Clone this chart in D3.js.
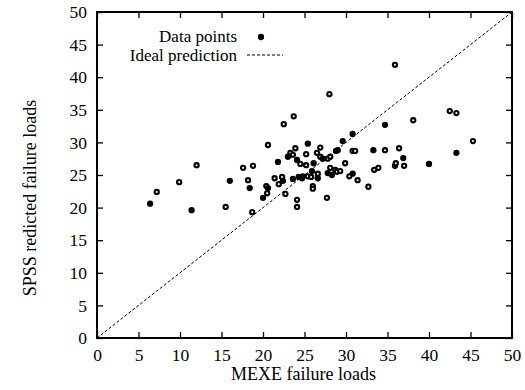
<!DOCTYPE html>
<html>
<head>
<meta charset="utf-8">
<script src="https://cdn.jsdelivr.net/npm/d3@7"></script>
<style>
  body { margin: 0; background: #fff; }
  text { font-family: "Liberation Serif", "Times New Roman", serif; fill: #000; }
</style>
</head>
<body>
<svg id="chart" width="525" height="390"></svg>
<script>
// MEXE failure loads (x) vs SPSS predicted failure loads (y)
let mexe = [6.4, 7.2, 9.9, 11.4, 12.0, 15.5, 16.0, 17.6, 18.2, 18.4, 18.7, 18.8, 20.0, 20.4, 20.5,
  20.6, 20.6, 21.4, 21.8, 21.9, 22.3, 22.4, 22.5, 22.7, 23.0, 23.3, 23.6, 23.6, 23.7, 23.9,
  24.1, 24.1, 24.1, 24.3, 24.5, 24.7, 24.8, 25.2, 25.2, 25.4, 25.4, 25.8, 25.9, 26.0, 26.0,
  26.1, 26.5, 26.6, 26.6, 26.9, 26.9, 27.2, 27.7, 27.8, 27.8, 28.1, 28.1, 28.3, 28.7, 28.8,
  29.0, 28.9, 29.3, 29.6, 29.9, 30.4, 30.8, 30.8, 31.1, 30.8, 31.4, 32.7, 33.3, 33.4, 33.9,
  34.7, 34.7, 35.9, 35.9, 36.0, 36.4, 36.9, 37.0, 38.1, 40.0, 42.5, 43.3, 43.3, 45.3, 28.0];
let spss = [20.6, 22.4, 23.9, 19.6, 26.5, 20.1, 24.1, 26.1, 24.2, 23.0, 19.3, 26.4, 21.5, 23.3, 22.2,
  23.0, 29.6, 24.5, 27.0, 23.6, 24.7, 24.1, 32.8, 22.1, 27.8, 28.4, 28.1, 24.4, 34.0, 29.1,
  27.3, 21.2, 20.1, 24.7, 26.7, 24.5, 24.8, 28.2, 26.5, 29.8, 24.8, 24.7, 25.6, 23.3, 22.9,
  26.8, 28.4, 25.2, 24.5, 29.2, 27.8, 27.5, 21.5, 27.5, 25.3, 27.8, 26.1, 25.0, 25.8, 28.7,
  28.8, 25.5, 25.6, 30.2, 26.8, 24.8, 31.3, 28.7, 28.7, 25.2, 24.2, 23.2, 28.8, 25.8, 26.1,
  32.7, 28.8, 41.9, 26.4, 26.8, 29.1, 27.6, 26.4, 33.4, 26.7, 34.8, 34.5, 28.4, 30.2, 37.4];
let ticks = [0, 5, 10, 15, 20, 25, 30, 35, 40, 45, 50];
let ideal = [0, 50];
let legendLabels = ["Data points", "Ideal prediction"];

const svg = d3.select("svg#chart");
const plotLeft = 97, plotRight = 512, plotTop = 12, plotBottom = 338;

let x = d3.scaleLinear().domain([0, 50]).range([plotLeft, plotRight]);
let y = d3.scaleLinear().domain([0, 50]).range([plotBottom, plotTop]);

// ideal prediction line
svg.append("line")
  .attr("x1", x(ideal[0])).attr("y1", y(ideal[0]))
  .attr("x2", x(ideal[1])).attr("y2", y(ideal[1]))
  .attr("stroke", "#000")
  .attr("stroke-width", 1)
  .attr("stroke-dasharray", "3,2");

// data points
for (let i in mexe){
  svg.append("circle")
    .attr("cx", x(mexe[i]))
    .attr("cy", y(spss[i]))
    .attr("r", 2.1)
    .attr("fill", i % 3 == 0 ? "#000" : "#fff")
    .attr("stroke", "#000")
    .attr("stroke-width", 2.1);
}

// axes with inward ticks, mirrored on top and right
const fontSize = "17.5px";
let xAxis = d3.axisBottom(x).tickValues(ticks).tickSizeInner(-6).tickSizeOuter(0).tickPadding(11);
let yAxis = d3.axisLeft(y).tickValues(ticks).tickSizeInner(-6).tickSizeOuter(0).tickPadding(10);
let gx = svg.append("g").attr("transform", "translate(0," + plotBottom + ")").call(xAxis);
let gy = svg.append("g").attr("transform", "translate(" + plotLeft + ",0)").call(yAxis);
let gx2 = svg.append("g").attr("transform", "translate(0," + plotTop + ")")
  .call(d3.axisTop(x).tickValues(ticks).tickSizeInner(-6).tickSizeOuter(0).tickFormat(""));
let gy2 = svg.append("g").attr("transform", "translate(" + plotRight + ",0)")
  .call(d3.axisRight(y).tickValues(ticks).tickSizeInner(-6).tickSizeOuter(0).tickFormat(""));

for (let g of [gx, gy, gx2, gy2]){
  g.select(".domain").remove();
  g.selectAll("line").attr("stroke", "#000").attr("stroke-width", 1.3);
  g.selectAll("text")
    .attr("font-family", "Liberation Serif, serif")
    .attr("font-size", fontSize)
    .attr("fill", "#000");
}

// frame
svg.append("rect")
  .attr("x", plotLeft).attr("y", plotTop)
  .attr("width", plotRight - plotLeft).attr("height", plotBottom - plotTop)
  .attr("fill", "none")
  .attr("stroke", "#000")
  .attr("stroke-width", 2);

// axis titles
svg.append("text")
  .attr("x", (plotLeft + plotRight) / 2 - 1)
  .attr("y", 380)
  .attr("text-anchor", "middle")
  .attr("font-size", "18px")
  .text("MEXE failure loads");

svg.append("text")
  .attr("transform", "translate(36,198) rotate(-90)")
  .attr("text-anchor", "middle")
  .attr("font-size", "18px")
  .text("SPSS redicted failure loads");

// legend
svg.append("text")
  .attr("x", 237).attr("y", 42)
  .attr("text-anchor", "end")
  .attr("font-size", "17px")
  .text(legendLabels[0]);
svg.append("circle")
  .attr("cx", 261).attr("cy", 37)
  .attr("r", 2.1)
  .attr("fill", "#000")
  .attr("stroke", "#000")
  .attr("stroke-width", 2.1);
svg.append("text")
  .attr("x", 237).attr("y", 61)
  .attr("text-anchor", "end")
  .attr("font-size", "17px")
  .text(legendLabels[1]);
svg.append("line")
  .attr("x1", 247).attr("y1", 55)
  .attr("x2", 283).attr("y2", 55)
  .attr("stroke", "#000")
  .attr("stroke-width", 1)
  .attr("stroke-dasharray", "3,2");
</script>
</body>
</html>
